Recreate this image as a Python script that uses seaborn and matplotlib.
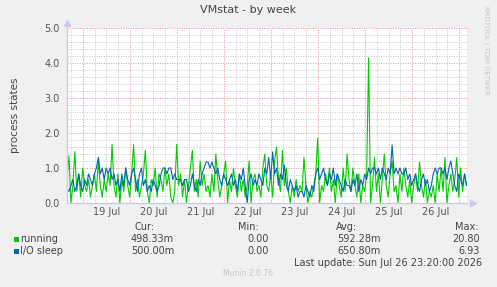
import matplotlib
matplotlib.use("Agg")
import matplotlib.pyplot as plt
import seaborn as sns
import pandas as pd
import numpy as np

# hourly samples, first one at 18 Jul ~15:50 (day -0.34, day 0 = 19 Jul 00:00)
running = [
    0.7, 1.35, 0.0, 0.5, 1.47, 0.33, 0.83, 0.17, 1.0, 0.5, 0.33, 0.67, 0.17, 0.5, 0.83, 0.33, 1.2, 0.5, 0.17, 0.67, 0.33, 0.83, 0.5, 1.67,
    0.5, 0.17, 0.83, 0.0, 0.67, 0.33, 1.0, 0.5, 0.17, 0.83, 1.67, 0.33, 0.67, 0.17, 0.5, 0.83, 1.5, 0.33, 0.0, 0.67, 0.5, 1.0, 0.17, 0.83,
    0.67, 0.33, 1.0, 0.5, 0.83, 0.17, 0.0, 0.33, 1.67, 0.5, 0.83, 0.17, 0.67, 0.0, 0.5, 1.0, 1.5, 0.33, 0.67, 0.17, 1.2, 0.5, 0.83, 0.33,
    0.5, 0.17, 0.83, 0.33, 1.4, 0.67, 0.17, 0.5, 0.83, 1.2, 0.0, 0.67, 0.33, 1.0, 0.5, 0.17, 0.83, 0.33, 0.67, 0.17, 0.5, 1.2, 0.0, 0.67,
    0.83, 0.33, 0.5, 0.17, 1.0, 1.4, 0.5, 0.33, 0.83, 0.17, 1.2, 1.6, 0.67, 0.33, 1.5, 0.5, 1.0, 0.33, 0.0, 0.5, 0.17, 0.67, 0.33, 0.5,
    0.33, 1.3, 0.5, 0.0, 0.33, 0.17, 0.5, 0.83, 1.85, 0.0, 0.5, 0.33, 0.83, 0.5, 1.0, 0.33, 0.67, 0.0, 0.83, 0.5, 0.17, 1.0, 0.33, 1.4,
    0.67, 0.33, 1.0, 0.5, 0.17, 0.83, 0.0, 0.5, 0.33, 0.83, 4.15, 0.0, 0.5, 1.3, 0.33, 0.83, 0.0, 0.67, 1.4, 0.5, 0.17, 0.83, 1.2, 0.33,
    0.5, 0.0, 0.83, 0.33, 1.0, 0.5, 0.17, 0.67, 0.0, 0.5, 0.83, 0.33, 1.17, 0.5, 0.17, 0.67, 0.0, 0.33, 0.17, 0.5, 0.0, 0.83, 0.33, 1.0,
    0.33, 1.3, 0.0, 0.5, 0.83, 0.33, 0.67, 1.3, 0.17, 1.0, 0.33, 0.83, 0.5,
]
io_sleep = [
    0.4, 0.33, 0.5, 0.67, 0.33, 0.5, 0.83, 0.5, 0.33, 0.67, 0.5, 0.83, 0.67, 0.5, 0.83, 1.0, 1.3, 0.83, 1.0, 0.67, 1.0, 0.83, 1.0, 0.67,
    0.83, 0.5, 0.67, 0.33, 0.83, 0.5, 1.0, 0.67, 0.5, 0.83, 1.0, 0.67, 0.33, 0.83, 1.0, 0.5, 0.67, 0.33, 0.5, 0.33, 0.67, 0.5, 0.33, 0.5,
    0.83, 1.0, 1.0, 0.83, 1.0, 1.0, 0.67, 0.83, 0.67, 0.67, 0.67, 0.5, 0.67, 0.67, 0.33, 0.5, 0.83, 0.5, 0.33, 0.67, 0.5, 0.83, 1.0, 1.17,
    1.17, 1.0, 1.17, 1.0, 0.83, 1.0, 0.67, 0.5, 0.83, 0.67, 0.5, 0.67, 0.83, 0.5, 0.67, 0.33, 0.83, 0.67, 1.0, 0.5, 0.0, 0.67, 0.83, 0.5,
    0.67, 0.5, 0.83, 0.67, 0.5, 1.0, 0.83, 1.3, 0.67, 1.46, 0.83, 1.0, 0.5, 0.83, 0.67, 1.08, 0.5, 0.33, 0.67, 0.5, 0.33, 0.5, 0.17, 0.33,
    0.33, 0.17, 0.5, 0.33, 0.17, 0.5, 0.33, 0.83, 1.0, 0.67, 0.83, 1.0, 0.67, 0.5, 0.83, 0.67, 1.0, 0.5, 0.83, 0.67, 0.5, 0.33, 0.67, 0.5,
    0.5, 0.33, 0.67, 0.5, 0.83, 0.33, 0.67, 0.5, 0.83, 0.67, 1.0, 0.83, 1.0, 1.0, 0.83, 1.0, 0.67, 1.0, 0.83, 0.67, 1.0, 0.83, 1.66, 0.83,
    1.0, 0.83, 1.0, 0.83, 0.83, 1.0, 0.67, 0.83, 0.5, 0.67, 0.83, 0.5, 0.33, 0.67, 0.83, 0.5, 0.67, 0.33, 0.5, 0.83, 1.0, 0.83, 1.0, 1.0,
    0.83, 1.0, 0.67, 1.0, 1.2, 0.83, 0.5, 0.33, 0.83, 0.67, 0.5, 0.83, 0.5,
]
day_labels = ["19 Jul", "20 Jul", "21 Jul", "22 Jul", "23 Jul", "24 Jul", "25 Jul", "26 Jul"]
series_names = ["running", "I/O sleep"]
series_colors = ["#00CC00", "#0066B3"]
cur_vals = ["498.33m", "500.00m"]
min_vals = ["0.00", "0.00"]
avg_vals = ["592.28m", "650.80m"]
max_vals = ["20.80", "6.93"]

t = -0.34 + np.arange(len(running)) / 24.0
df = pd.DataFrame({"day": np.concatenate([t, t]),
                   "value": running + io_sleep,
                   "series": ["running"] * len(running) + ["I/O sleep"] * len(io_sleep)})

W, H = 497, 287
fig = plt.figure(figsize=(W / 100, H / 100), dpi=100, facecolor="#F0F0F0")
ax = fig.add_axes([67 / W, (H - 203) / H, 400 / W, 175 / H])
ax.set_facecolor("white")

sns.lineplot(data=df, x="day", y="value", hue="series", hue_order=series_names,
             palette=series_colors, linewidth=0.8, legend=False, ax=ax)

ax.set_xlim(-0.34, 8.17)
ax.set_ylim(0, 5.0)

# grid: major red-ish dotted, minor grey dotted
ax.set_yticks(np.arange(0, 5.01, 1.0))
ax.set_yticks(np.arange(0, 5.01, 0.2), minor=True)
ax.set_xticks(np.arange(0, 9, 1.0))
ax.set_xticks(np.arange(-0.25, 8.2, 0.25), minor=True)
ax.grid(which="minor", color="#C8C8C8", linestyle=(0, (1, 1.5)), linewidth=0.7)
ax.grid(which="major", color="#E49090", linestyle=(0, (1, 1.5)), linewidth=0.7)
ax.set_axisbelow(True)
ax.set_xticklabels([])
ax.set_yticklabels([f"{v:.1f}" for v in np.arange(0, 5.01, 1.0)], fontsize=7, color="#555555")
ax.tick_params(which="both", length=0, pad=4)
ax.tick_params(axis="y", pad=5)

# day labels at noon
for i, lab in enumerate(day_labels):
    ax.text(i + 0.5, -0.12, lab, ha="center", va="top", fontsize=7, color="#555555")

for s in ["top", "right"]:
    ax.spines[s].set_visible(False)
for s in ["left", "bottom"]:
    ax.spines[s].set_color("#C8C8F0")
    ax.spines[s].set_linewidth(1)
ax.plot([0], [1.03], marker="^", color="#C8C8F0", markersize=5, transform=ax.transAxes, clip_on=False)
ax.plot([1.015], [0], marker=">", color="#C8C8F0", markersize=5, transform=ax.transAxes, clip_on=False)

ax.set_xlabel("")
ax.set_ylabel("")


def px(x, y):
    return x / W, 1 - y / H


fig.text(*px(248, 10), "VMstat - by week", ha="center", va="center", fontsize=8, color="#444444")
fig.text(*px(15, 115), "process states", ha="center", va="center", rotation=90, fontsize=7.5, color="#444444")
fig.text(*px(486, 50), "RRDTOOL / TOBI OETIKER", ha="center", va="center", rotation=270,
         fontsize=5, color="#C8C8C8")

txt = dict(fontsize=7, color="#444444", va="center")
fig.text(*px(155, 227), "Cur:", ha="right", **txt)
fig.text(*px(259, 227), "Min:", ha="right", **txt)
fig.text(*px(357, 227), "Avg:", ha="right", **txt)
fig.text(*px(478, 227), "Max:", ha="right", **txt)
for row, (name, col) in enumerate(zip(series_names, series_colors)):
    y = 239 + row * 12
    fig.patches.append(plt.Rectangle(px(14, y + 2.5), 5 / W, 5 / H, transform=fig.transFigure,
                                     facecolor=col, edgecolor="none"))
    fig.text(*px(20, y), name, ha="left", **txt)
    fig.text(*px(174, y), cur_vals[row], ha="right", **txt)
    fig.text(*px(269, y), min_vals[row], ha="right", **txt)
    fig.text(*px(381, y), avg_vals[row], ha="right", **txt)
    fig.text(*px(480, y), max_vals[row], ha="right", **txt)
fig.text(*px(482, 263), "Last update: Sun Jul 26 23:20:00 2026", ha="right", **txt)
fig.text(*px(248, 274), "Munin 2.0.76", ha="center", va="center", fontsize=5.5, color="#C8C8C8")

fig.savefig("out.png", dpi=100, facecolor=fig.get_facecolor())
